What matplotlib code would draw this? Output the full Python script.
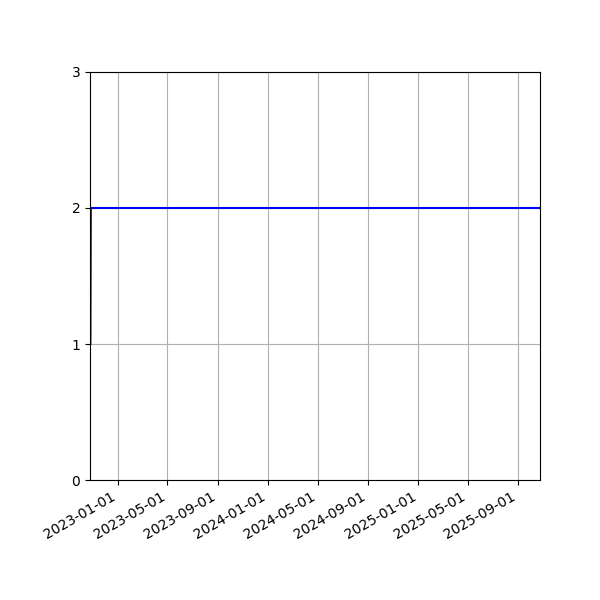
import matplotlib
matplotlib.use("Agg")
import matplotlib.pyplot as plt
import matplotlib.dates as mdates
import datetime as dt

dates = [dt.date(2022, 10, 26), dt.date(2022, 10, 27), dt.date(2025, 10, 24)]
values = [1, 2, 2]
x_start = dt.date(2022, 10, 25)
x_end = dt.date(2025, 10, 24)
y_ticks = [0, 1, 2, 3]

fig = plt.figure(figsize=(6, 6), dpi=100)
ax = fig.add_axes([0.15, 0.2, 0.75, 0.68])
ax.plot(dates, values, color="blue", linewidth=1.5)
ax.set_xlim(x_start, x_end)
ax.set_ylim(0, 3)
ax.set_yticks(y_ticks)
ax.xaxis.set_major_locator(mdates.MonthLocator(bymonth=[1, 5, 9]))
ax.xaxis.set_major_formatter(mdates.DateFormatter("%Y-%m-%d"))
ax.grid(True)
for lbl in ax.get_xticklabels():
    lbl.set_rotation(30)
    lbl.set_ha("right")
fig.savefig("out.png", dpi=100)
